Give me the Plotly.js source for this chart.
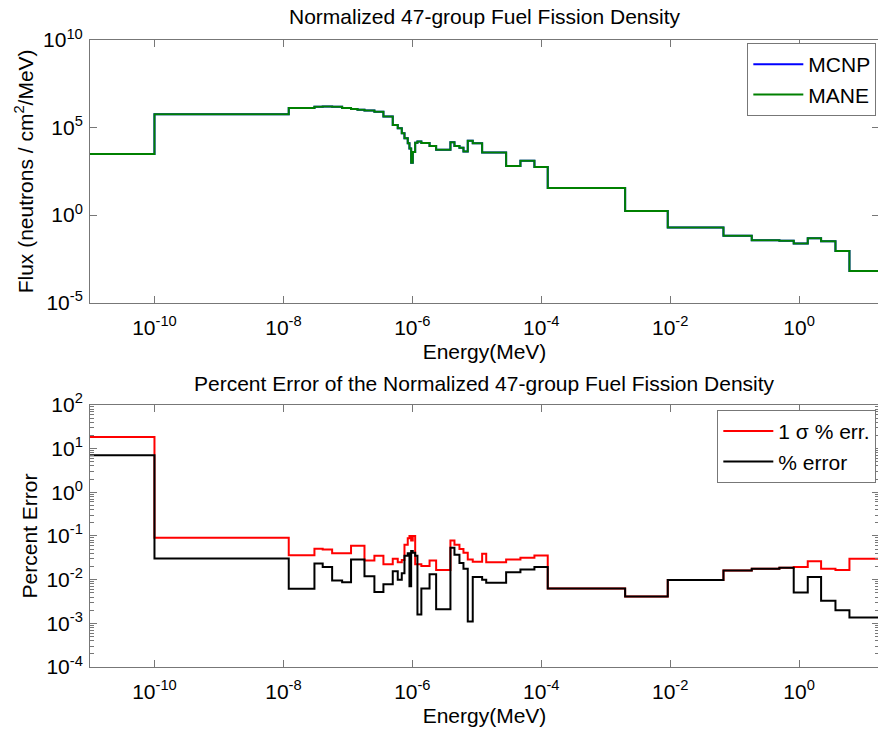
<!DOCTYPE html>
<html>
<head>
<meta charset="utf-8">
<script src="https://cdn.plot.ly/plotly-3.0.1.min.js"></script>
<style>
html,body{margin:0;padding:0;overflow:hidden;background:#fff;}
#chart{width:880px;height:732px;}
</style>
</head>
<body>
<div id="chart"></div>
<script>
// 47-group energy boundaries (MeV), low to high
const energyEdges = [1e-11, 1e-10, 1.21e-8, 3.03e-8, 4.07e-8, 5.70e-8, 8.15e-8, 1.12e-7, 1.41e-7, 1.81e-7,
  2.58e-7, 3.56e-7, 4.97e-7, 5.94e-7, 6.86e-7, 7.55e-7, 8.49e-7, 9.02e-7, 9.59e-7, 1.016e-6,
  1.107e-6, 1.20e-6, 1.38e-6, 1.85e-6, 2.34e-6, 3.90e-6, 4.50e-6, 5.38e-6, 6.21e-6, 7.24e-6,
  8.65e-6, 1.21e-5, 1.40e-5, 2.85e-5, 4.75e-5, 7.83e-5, 1.26e-4, 2.0e-3, 9.16e-3, 6.70e-2,
  0.184, 0.494, 0.824, 1.36, 2.19, 3.66, 6.03, 17.33];

// Normalized fuel fission density flux per group
const fluxMCNP = [3.1e3, 5.75e5, 1.29e6, 1.55e6, 1.62e6, 1.55e6, 1.29e6, 1.15e6, 1.05e6, 9.3e5,
  8.1e5, 4.3e5, 1.4e5, 9.1e4, 4.8e4, 2.45e4, 1.26e4, 6.3e3, 9.8e2, 4.0e3,
  1.38e4, 1.58e4, 1.32e4, 8.9e3, 5.5e3, 1.45e4, 8.9e3, 7.1e3, 4.3e3, 1.74e4,
  1.26e4, 3.8e3, 3.8e3, 6.3e2, 1.29e3, 5.6e2, 36, 1.7, 0.20, 0.066,
  0.037, 0.034, 0.024, 0.048, 0.032, 0.0091, 6.5e-4];
const fluxMANE = [3.1e3, 5.75e5, 1.29e6, 1.55e6, 1.62e6, 1.55e6, 1.29e6, 1.15e6, 1.05e6, 9.3e5,
  8.1e5, 4.3e5, 1.4e5, 9.1e4, 4.8e4, 2.45e4, 1.26e4, 6.3e3, 9.8e2, 4.0e3,
  1.38e4, 1.58e4, 1.32e4, 8.9e3, 5.5e3, 1.45e4, 8.9e3, 7.1e3, 4.3e3, 1.74e4,
  1.26e4, 3.8e3, 3.8e3, 6.3e2, 1.29e3, 5.6e2, 36, 1.7, 0.20, 0.066,
  0.037, 0.034, 0.024, 0.048, 0.032, 0.0091, 6.5e-4];

// Percent errors per group
const sigmaPctErr = [18.5, 0.091, 0.036, 0.051, 0.049, 0.040, 0.040, 0.060, 0.060, 0.0275,
  0.035, 0.0224, 0.030, 0.025, 0.028, 0.063, 0.089, 0.10, 0.079, 0.10,
  0.0224, 0.0224, 0.0204, 0.0275, 0.0166, 0.079, 0.063, 0.050, 0.041, 0.029,
  0.0257, 0.039, 0.025, 0.029, 0.0316, 0.0355, 0.0063, 0.0041, 0.0098, 0.0162,
  0.0178, 0.0186, 0.0195, 0.0263, 0.0178, 0.0166, 0.030];
const pctError = [7.0, 0.0304, 0.0062, 0.0234, 0.0195, 0.0095, 0.0087, 0.029, 0.029, 0.012,
  0.0052, 0.0078, 0.0155, 0.010, 0.014, 0.035, 0.040, 0.0071, 0.045, 0.041,
  0.035, 0.0016, 0.0063, 0.0132, 0.0021, 0.054, 0.037, 0.024, 0.0178, 0.0011,
  0.0115, 0.010, 0.0085, 0.0148, 0.017, 0.0195, 0.0063, 0.0041, 0.0098, 0.0162,
  0.0178, 0.0186, 0.0051, 0.0115, 0.0033, 0.0020, 0.00135];

// Tick labels
const xTickVals = [1e-10, 1e-8, 1e-6, 1e-4, 1e-2, 1];
const xTickText = ['10<sup>-10</sup>', '10<sup>-8</sup>', '10<sup>-6</sup>', '10<sup>-4</sup>', '10<sup>-2</sup>', '10<sup>0</sup>'];
const y1TickVals = [1e-5, 1, 1e5, 1e10];
const y1TickText = ['10<sup>-5</sup>', '10<sup>0</sup>', '10<sup>5</sup>', '10<sup>10</sup>'];
const y2TickVals = [1e-4, 1e-3, 1e-2, 1e-1, 1, 10, 100];
const y2TickText = ['10<sup>-4</sup>', '10<sup>-3</sup>', '10<sup>-2</sup>', '10<sup>-1</sup>', '10<sup>0</sup>', '10<sup>1</sup>', '10<sup>2</sup>'];
const minorDigits = [2, 3, 4, 5, 6, 7, 8, 9];

function stairs(vals) { return vals.concat([vals[vals.length - 1]]); }
const y2MinorVals = [];
y2TickVals.slice(0, -1).forEach(d => minorDigits.forEach(m => y2MinorVals.push(d * m)));

const axisColor = '#777777';
const FONT = 'Liberation Sans, Arial, Helvetica, sans-serif';
const FS = 21;
const txt = {size: FS, family: FONT, color: '#000'};

const traces = [
  {x: energyEdges, y: stairs(fluxMCNP), xaxis: 'x', yaxis: 'y', name: 'MCNP', mode: 'lines',
   line: {shape: 'hv', color: '#0000ff', width: 2}, legend: 'legend'},
  {x: energyEdges, y: stairs(fluxMANE), xaxis: 'x', yaxis: 'y', name: 'MANE', mode: 'lines',
   line: {shape: 'hv', color: '#008000', width: 2}, legend: 'legend'},
  {x: energyEdges, y: stairs(sigmaPctErr), xaxis: 'x2', yaxis: 'y2', name: '1 σ % err.', mode: 'lines',
   line: {shape: 'hv', color: '#ff0000', width: 2}, legend: 'legend2'},
  {x: energyEdges, y: stairs(pctError), xaxis: 'x2', yaxis: 'y2', name: '% error', mode: 'lines',
   line: {shape: 'hv', color: '#000000', width: 2}, legend: 'legend2'}
];

function xAxis(anchor) {
  return {
    type: 'log', range: [-11, Math.log10(17.33)], anchor: anchor,
    tickvals: xTickVals, ticktext: xTickText,
    ticks: 'inside', ticklen: 7, tickwidth: 1, tickcolor: axisColor,
    ticklabelstandoff: 6,
    showline: true, linecolor: axisColor, linewidth: 1, mirror: 'ticks',
    showgrid: false, zeroline: false,
    tickfont: txt,
    title: {text: 'Energy(MeV)', font: txt, standoff: 6}
  };
}
function yAxis(range, domain, anchor, vals, text, title, minor) {
  const ax = {
    type: 'log', range: range, domain: domain, anchor: anchor,
    tickvals: vals, ticktext: text,
    ticks: 'inside', ticklen: 7, tickcolor: axisColor,
    ticklabelstandoff: 2,
    showline: true, linecolor: axisColor, mirror: 'ticks',
    showgrid: false, zeroline: false,
    tickfont: txt,
    title: {text: title, font: txt, standoff: 3}
  };
  if (minor) ax.minor = {ticks: 'inside', ticklen: 4, tickcolor: axisColor, tickmode: 'array', tickvals: minor, showgrid: false};
  return ax;
}

const layout = {
  width: 880, height: 732,
  margin: {l: 90, r: 1, t: 40, b: 65},
  paper_bgcolor: '#ffffff', plot_bgcolor: '#ffffff',
  font: txt,
  showlegend: true,
  title: {text: 'Normalized 47-group Fuel Fission Density', font: txt,
    xref: 'paper', x: 0.5, xanchor: 'center', yref: 'container', y: 1 - 17 / 732, yanchor: 'middle'},
  xaxis: xAxis('y'),
  xaxis2: xAxis('y2'),
  yaxis: yAxis([-5, 10], [0.581, 1], 'x', y1TickVals, y1TickText, 'Flux (neutrons / cm<sup>2</sup>/MeV)', null),
  yaxis2: yAxis([-4, 2], [0, 0.418], 'x2', y2TickVals, y2TickText, 'Percent Error', y2MinorVals),
  legend: {x: 0.9966, y: 0.995, xanchor: 'right', yanchor: 'top', xref: 'paper', yref: 'paper',
    bordercolor: axisColor, borderwidth: 1, bgcolor: '#ffffff', itemwidth: 50,
    font: txt, tracegroupgap: 0},
  legend2: {x: 0.9966, y: 0.41, xanchor: 'right', yanchor: 'top', xref: 'paper', yref: 'paper',
    bordercolor: axisColor, borderwidth: 1, bgcolor: '#ffffff', itemwidth: 50,
    font: txt, tracegroupgap: 0},
  annotations: [{
    text: 'Percent Error of the Normalized 47-group Fuel Fission Density',
    xref: 'paper', yref: 'paper', x: 0.5, y: (667 - 383) / 627, xanchor: 'center', yanchor: 'middle',
    showarrow: false, font: txt
  }]
};

Plotly.newPlot('chart', traces, layout, {displayModeBar: false, staticPlot: true});
</script>
</body>
</html>
